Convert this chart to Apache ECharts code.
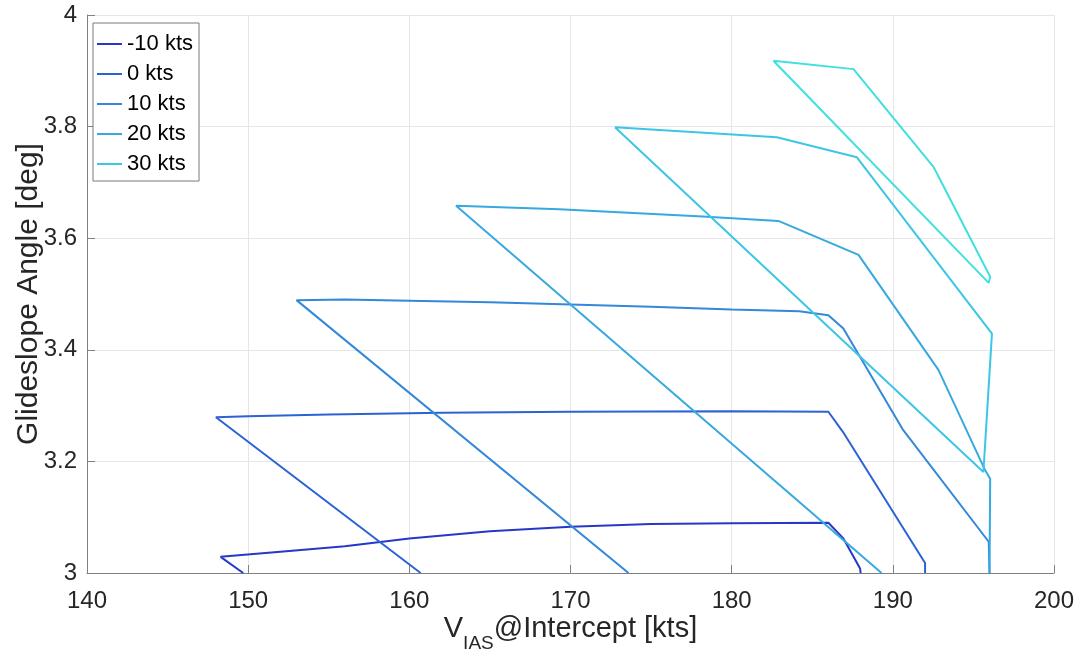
<!DOCTYPE html>
<html>
<head>
<meta charset="utf-8">
<script src="https://cdn.jsdelivr.net/npm/echarts@6/dist/echarts.min.js"></script>
<style>
html,body{margin:0;padding:0;background:#fff;}
#chart{width:1078px;height:659px;}
</style>
</head>
<body>
<div id="chart"></div>
<script>
// ---- data ----
const seriesNames = ['-10 kts', '0 kts', '10 kts', '20 kts', '30 kts', 'data6'];
const legendNames = ['-10 kts', '0 kts', '10 kts', '20 kts', '30 kts'];

const vM10 = [149.69, 148.29, 152.0, 156.0, 160.0, 165.0, 170.0, 175.0, 180.0, 186.0, 186.93, 187.97, 188.0];
const gM10 = [3.000, 3.029, 3.038, 3.048, 3.062, 3.075, 3.083, 3.088, 3.089, 3.090, 3.062, 3.008, 3.000];

const v0 = [160.7, 148.0, 150.0, 155.0, 162.0, 170.0, 180.0, 186.0, 186.9, 192.0, 192.0];
const g0 = [3.000, 3.279, 3.281, 3.284, 3.287, 3.289, 3.290, 3.289, 3.253, 3.018, 3.000];

const v10 = [173.6, 153.0, 156.0, 160.0, 165.0, 170.0, 175.0, 180.0, 184.2, 186.0, 186.93, 190.6, 195.95, 196.0];
const g10 = [3.000, 3.489, 3.490, 3.488, 3.485, 3.481, 3.477, 3.472, 3.469, 3.462, 3.438, 3.258, 3.056, 3.000];

const v20 = [189.3, 162.9, 169.3, 178.2, 182.9, 187.87, 192.83, 195.73, 196.04, 196.0];
const g20 = [3.000, 3.658, 3.652, 3.639, 3.631, 3.570, 3.364, 3.184, 3.169, 3.000];

const v30 = [172.76, 182.8, 187.77, 196.15, 195.62, 172.76];
const g30 = [3.799, 3.781, 3.745, 3.429, 3.181, 3.799];

const v40 = [182.59, 187.56, 192.52, 196.04, 195.95, 182.59];
const g40 = [3.918, 3.903, 3.728, 3.531, 3.520, 3.918];

const xMin = 140, xMax = 200, xStep = 10;
const yMin = 3, yMax = 4, yStep = 0.2;

// ---- styling ----
const colors = ['#2638c8', '#2c62d4', '#3388da', '#37a9e0', '#3cc6e6', '#40e0df'];
const font = 'Liberation Sans, Arial, Helvetica, sans-serif';

const vs = [vM10, v0, v10, v20, v30, v40];
const gs = [gM10, g0, g10, g20, g30, g40];

const series = seriesNames.map((n, i) => ({
  name: n,
  type: 'line',
  data: vs[i].map((v, k) => [v, gs[i][k]]),
  symbol: 'none',
  clip: true,
  lineStyle: { color: colors[i], width: 2 },
  itemStyle: { color: colors[i] },
  emphasis: { disabled: true },
  animation: false,
  z: 3
}));

const chart = echarts.init(document.getElementById('chart'), null, { renderer: 'canvas' });
chart.setOption({
  backgroundColor: '#ffffff',
  animation: false,
  grid: { left: 87, right: 24, top: 15, bottom: 86, containLabel: false, outerBoundsMode: 'none' },
  legend: {
    data: legendNames,
    orient: 'vertical',
    icon: 'rect',
    left: 93,
    top: 23,
    padding: [10, 6, 6, 4],
    itemGap: 8,
    itemWidth: 25,
    itemHeight: 2,
    backgroundColor: '#ffffff',
    borderColor: '#7a7a7a',
    borderWidth: 1,
    borderRadius: 0,
    textStyle: { fontFamily: font, fontSize: 22, color: '#000', lineHeight: 21 },
    selectedMode: false
  },
  xAxis: {
    type: 'value',
    min: xMin, max: xMax, interval: xStep,
    name: '{v|V}{s|IAS}{v|@Intercept [kts]}',
    nameLocation: 'middle',
    nameGap: 41,
    nameMoveOverlap: false,
    nameTextStyle: {
      rich: {
        v: { fontFamily: font, fontSize: 29, color: '#262626', lineHeight: 30, verticalAlign: 'top' },
        s: { fontFamily: font, fontSize: 19, color: '#262626', lineHeight: 19, padding: [20, 0, 0, 0], verticalAlign: 'top' }
      }
    },
    axisLine: { show: true, onZero: false, lineStyle: { color: '#808080', width: 1 } },
    axisTick: { show: true, inside: true, length: 8, lineStyle: { color: '#808080' } },
    axisLabel: { fontFamily: font, fontSize: 24, color: '#262626', margin: 16 },
    splitLine: { show: true, lineStyle: { color: '#e6e6e6', width: 1 } }
  },
  yAxis: {
    type: 'value',
    min: yMin, max: yMax, interval: yStep,
    name: 'Glideslope Angle [deg]',
    nameLocation: 'middle',
    nameGap: 43,
    nameMoveOverlap: false,
    nameTextStyle: { fontFamily: font, fontSize: 30, color: '#262626' },
    axisLine: { show: true, onZero: false, lineStyle: { color: '#808080', width: 1 } },
    axisTick: { show: true, inside: true, length: 8, lineStyle: { color: '#808080' } },
    axisLabel: { fontFamily: font, fontSize: 24, color: '#262626', margin: 10,
      formatter: v => String(Math.round(v * 10) / 10) },
    splitLine: { show: true, lineStyle: { color: '#e6e6e6', width: 1 } }
  },
  series: series
});
</script>
</body>
</html>
